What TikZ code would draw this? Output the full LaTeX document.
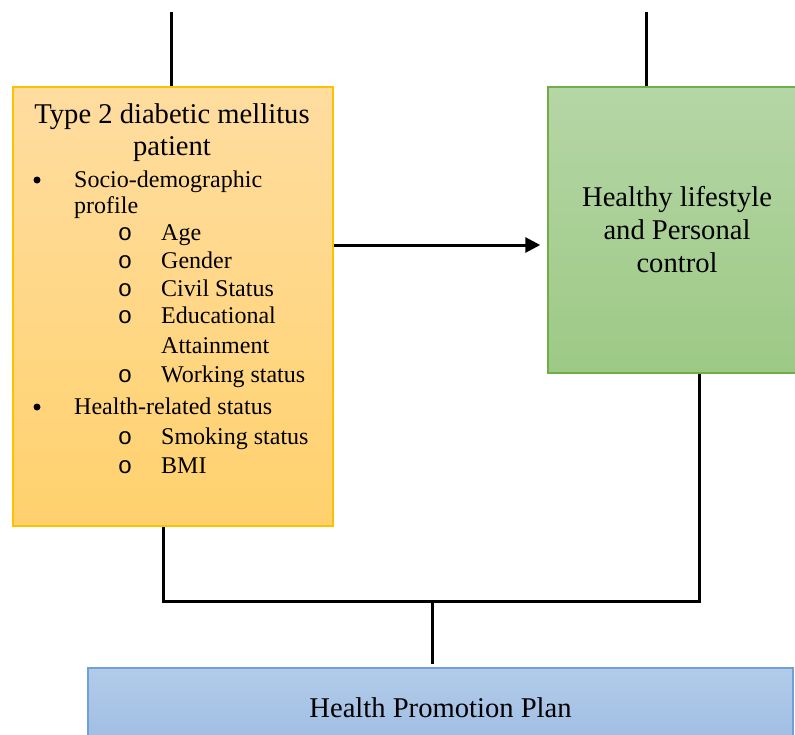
\documentclass[tikz,border=0pt]{standalone}
\usepackage{fontspec}
\setmainfont{Liberation Serif}
\newfontfamily\subbulletfont{Liberation Mono}
\usetikzlibrary{arrows.meta}
\definecolor{obord}{HTML}{FFC000}
\definecolor{otop}{HTML}{FFDDA0}
\definecolor{obot}{HTML}{FFD16D}
\definecolor{gbord}{HTML}{70AD47}
\definecolor{gtop}{HTML}{B5D6A6}
\definecolor{gbot}{HTML}{9DC985}
\definecolor{bbord}{HTML}{6FA0D8}
\definecolor{btop}{HTML}{B2CBE9}
\definecolor{bbot}{HTML}{9EBCE3}
\tikzset{
  obox/.style={draw=obord, line width=1.5pt, top color=otop, bottom color=obot, inner sep=0},
  gbox/.style={draw=gbord, line width=1.5pt, top color=gtop, bottom color=gbot, inner sep=0,
    align=center, font=\fontsize{28.6}{33}\selectfont},
  bbox/.style={draw=bbord, line width=1.5pt, top color=btop, bottom color=bbot, inner sep=0,
    font=\fontsize{28.6}{33}\selectfont},
  ttl/.style={anchor=base, inner sep=0, font=\fontsize{28.6}{33}\selectfont},
  lt/.style={anchor=base west, inner sep=0, font=\fontsize{24}{28}\selectfont},
  bul/.style={anchor=center, inner sep=0, circle, fill=black, minimum size=7pt},
  sbul/.style={anchor=base, inner sep=0, font=\subbulletfont\fontsize{24}{28}\selectfont},
  conn/.style={draw=black, line width=3pt},
  arr/.style={conn, -{Triangle[length=15pt,width=15pt]}},
}
\begin{document}
\begin{tikzpicture}[x=1pt,y=-1pt]
\useasboundingbox (0,0) rectangle (795,734);
% boxes
\node[obox, minimum width=320pt, minimum height=439pt] (pat) at (173,306.5) {};
\node[gbox, minimum width=258pt, minimum height=286pt] (hl) at (677,230)
  {Healthy lifestyle\\and Personal\\control};
\node[bbox, minimum width=705pt, minimum height=80pt] (hpp) at (440.5,708)
  {Health Promotion Plan};
% text of the patient box
\node[ttl] (pt1) at (172,123) {Type 2 diabetic mellitus};
\node[ttl] (pt2) at (172,155) {patient};
\node[bul] (b1) at (37,180) {};
\node[lt] (l1) at (74,187) {Socio-demographic};
\node[lt] (l2) at (74,213) {profile};
\node[sbul] (s1) at (125,240) {o};
\node[lt] (l3) at (161,240) {Age};
\node[sbul] (s2) at (125,268) {o};
\node[lt] (l4) at (161,268) {Gender};
\node[sbul] (s3) at (125,296) {o};
\node[lt] (l5) at (161,296) {Civil Status};
\node[sbul] (s4) at (125,323) {o};
\node[lt] (l6) at (161,323) {Educational};
\node[lt] (l7) at (161,353) {Attainment};
\node[sbul] (s5) at (125,382) {o};
\node[lt] (l8) at (161,382) {Working status};
\node[bul] (b2) at (37,407) {};
\node[lt] (l9) at (74,414) {Health-related status};
\node[sbul] (s6) at (125,444) {o};
\node[lt] (l10) at (161,444) {Smoking status};
\node[sbul] (s7) at (125,473) {o};
\node[lt] (l11) at (161,473) {BMI};
% connectors
\coordinate (tl) at (171,12);
\coordinate (tr) at (646,12);
\draw[conn] (tl) -- (tl |- pat.north);
\draw[conn] (tr) -- (tr |- hl.north);
\coordinate (ay) at (0,245);
\draw[arr] (pat.east |- ay) -- ([xshift=-7pt]hl.west |- ay);
\coordinate (jl) at (163,601);
\coordinate (jr) at (699,601);
\coordinate (jm) at (432,601);
\draw[conn] (pat.south -| jl) -- (jl) -- (jr) -- (hl.south -| jr);
\draw[conn, shorten >=3pt] (jm) -- (hpp.north -| jm);
\end{tikzpicture}
\end{document}
